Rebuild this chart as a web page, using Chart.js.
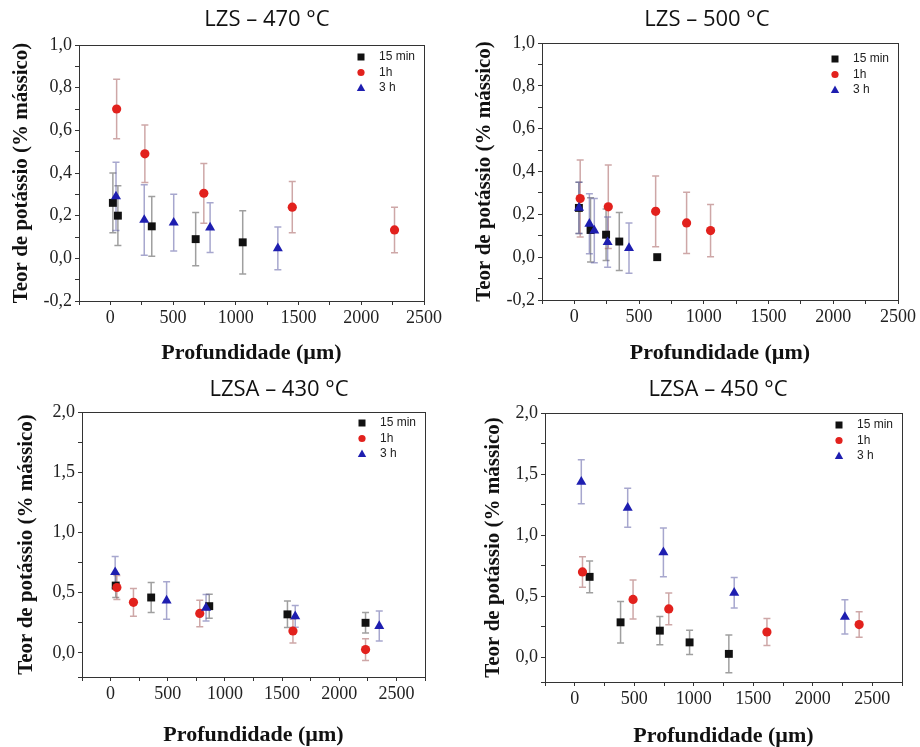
<!DOCTYPE html>
<html>
<head>
<meta charset="utf-8">
<title>Teor de potássio</title>
<script src="https://cdn.jsdelivr.net/npm/chart.js@4.4.1/dist/chart.umd.min.js"></script>
<style>
  html, body { margin: 0; padding: 0; background: #fff; }
  #wrap { position: relative; width: 920px; height: 747px; }
  #wrap canvas { position: absolute; }
</style>
</head>
<body>
<div id="wrap">
  <canvas id="c1" width="460" height="370" style="left:0;top:0"></canvas>
  <canvas id="c2" width="460" height="370" style="left:460px;top:0"></canvas>
  <canvas id="c3" width="460" height="377" style="left:0;top:370px"></canvas>
  <canvas id="c4" width="460" height="377" style="left:460px;top:370px"></canvas>
</div>
<script>
// series names, same in the four panels
const seriesLabels = ['15 min', '1h', '3 h'];

// LZS – 470 °C
const lzs470_x15 = [20, 60, 330, 680, 1055];
const lzs470_y15 = [0.26, 0.20, 0.15, 0.09, 0.075];
const lzs470_e15 = [0.14, 0.14, 0.14, 0.125, 0.148];
const lzs470_x1h = [50, 275, 745, 1450, 2265];
const lzs470_y1h = [0.70, 0.49, 0.305, 0.24, 0.133];
const lzs470_e1h = [0.14, 0.135, 0.14, 0.12, 0.107];
const lzs470_x3h = [45, 270, 505, 795, 1335];
const lzs470_y3h = [0.29, 0.18, 0.167, 0.144, 0.047];
const lzs470_e3h = [0.16, 0.165, 0.133, 0.117, 0.1];

// LZS – 500 °C
const lzs500_x15 = [35, 125, 245, 347, 640];
const lzs500_y15 = [0.23, 0.127, 0.105, 0.073, 0.0];
const lzs500_e15 = [0.12, 0.15, 0.12, 0.135, 0];
const lzs500_x1h = [45, 262, 628, 867, 1052];
const lzs500_y1h = [0.274, 0.235, 0.214, 0.16, 0.124];
const lzs500_e1h = [0.18, 0.195, 0.165, 0.143, 0.122];
const lzs500_x3h = [36, 116, 154, 257, 422];
const lzs500_y3h = [0.23, 0.156, 0.124, 0.07, 0.042];
const lzs500_e3h = [0.12, 0.14, 0.15, 0.117, 0.117];

// LZSA – 430 °C
const lzsa430_x15 = [45, 355, 863, 1547, 2230];
const lzsa430_y15 = [0.559, 0.46, 0.388, 0.32, 0.25];
const lzsa430_e15 = [0.1, 0.125, 0.1, 0.11, 0.085];
const lzsa430_x1h = [55, 200, 780, 1595, 2230];
const lzsa430_y1h = [0.543, 0.42, 0.328, 0.182, 0.028];
const lzsa430_e1h = [0.1, 0.115, 0.11, 0.1, 0.09];
const lzsa430_x3h = [40, 490, 835, 1615, 2350];
const lzsa430_y3h = [0.67, 0.435, 0.375, 0.303, 0.223];
const lzsa430_e3h = [0.13, 0.155, 0.11, 0.09, 0.125];

// LZSA – 450 °C
const lzsa450_x15 = [125, 385, 715, 965, 1295];
const lzsa450_y15 = [0.66, 0.288, 0.22, 0.124, 0.03];
const lzsa450_e15 = [0.13, 0.17, 0.115, 0.1, 0.155];
const lzsa450_x1h = [65, 490, 790, 1615, 2390];
const lzsa450_y1h = [0.70, 0.475, 0.398, 0.209, 0.27];
const lzsa450_e1h = [0.125, 0.16, 0.13, 0.11, 0.105];
const lzsa450_x3h = [55, 445, 745, 1340, 2270];
const lzsa450_y3h = [1.437, 1.225, 0.86, 0.53, 0.332];
const lzsa450_e3h = [0.18, 0.16, 0.2, 0.125, 0.14];

// styles
const seriesColors = ['#111111', '#e2211d', '#1e1eb0'];
const errColors = ['rgba(80,80,80,0.55)', 'rgba(165,95,95,0.55)', 'rgba(95,95,165,0.55)'];
const pointStyles = ['rect', 'circle', 'triangle'];
const pointSizes = [5.6, 4.6, 5.8];

// error bars, drawn under the markers
const errorBarPlugin = {
  id: 'errorBars',
  beforeDatasetsDraw(chart) {
    const ctx = chart.ctx, xs = chart.scales.x, ys = chart.scales.y;
    ctx.save();
    ctx.lineWidth = 1.5;
    chart.data.datasets.forEach((ds, i) => {
      ctx.strokeStyle = errColors[i];
      ds.data.forEach((p, k) => {
        const e = ds.errors[k];
        if (!e) return;
        const px = xs.getPixelForValue(p.x);
        const top = ys.getPixelForValue(p.y + e);
        const bot = ys.getPixelForValue(p.y - e);
        ctx.beginPath();
        ctx.moveTo(px, top); ctx.lineTo(px, bot);
        ctx.moveTo(px - 3.5, top); ctx.lineTo(px + 3.5, top);
        ctx.moveTo(px - 3.5, bot); ctx.lineTo(px + 3.5, bot);
        ctx.stroke();
      });
    });
    ctx.restore();
  }
};

// box around the plot, panel title and the legend inside the plot
const decorPlugin = {
  id: 'panelDecor',
  afterDraw(chart, args, opts) {
    const ctx = chart.ctx, a = chart.chartArea;
    ctx.save();
    ctx.strokeStyle = '#333';
    ctx.lineWidth = 1;
    ctx.strokeRect(Math.round(a.left) + 0.5, Math.round(a.top) + 0.5,
      Math.round(a.right - a.left), Math.round(a.bottom - a.top));

    ctx.fillStyle = '#111';
    ctx.font = '22px "Open Sans"';
    ctx.textAlign = 'center';
    ctx.textBaseline = 'middle';
    ctx.fillText(opts.title, opts.titleX, opts.titleY);

    ctx.font = '12px "Liberation Sans"';
    ctx.textAlign = 'left';
    seriesLabels.forEach((lab, i) => {
      const mx = a.right - 63, my = a.top + opts.legTop + i * 15.5;
      ctx.fillStyle = seriesColors[i];
      ctx.beginPath();
      if (i === 0) ctx.rect(mx - 3.5, my - 3.5, 7, 7);
      else if (i === 1) ctx.arc(mx, my, 3.6, 0, Math.PI * 2);
      else { ctx.moveTo(mx, my - 4.5); ctx.lineTo(mx + 4.2, my + 3); ctx.lineTo(mx - 4.2, my + 3); ctx.closePath(); }
      ctx.fill();
      ctx.fillStyle = '#222';
      ctx.fillText(lab, a.right - 45, my);
    });
    ctx.restore();
  }
};

function makeSeries(xs, ys, es) {
  return { x: xs, y: ys, e: es };
}

// decimal comma, and no "-0,0" from rounding noise
function commaLabel(v) {
  const r = Math.round(v * 10) / 10;
  return (r === 0 ? 0 : r).toFixed(1).replace('.', ',');
}

function makePanel(id, title, series, o) {
  const datasets = series.map((s, i) => ({
    label: seriesLabels[i],
    data: s.x.map((x, k) => ({ x: x, y: s.y[k] })),
    errors: s.e,
    pointStyle: pointStyles[i],
    pointRadius: pointSizes[i],
    pointHoverRadius: pointSizes[i],
    backgroundColor: seriesColors[i],
    borderColor: seriesColors[i],
    borderWidth: 0,
    showLine: false,
    order: 3 - i
  }));

  const tickFont = { family: 'Liberation Serif', size: 18 };
  new Chart(document.getElementById(id), {
    type: 'scatter',
    data: { datasets: datasets },
    options: {
      responsive: false,
      animation: false,
      devicePixelRatio: 1,
      layout: { padding: { left: o.padL, right: o.padR, top: o.padT, bottom: o.padB } },
      plugins: {
        legend: { display: false },
        tooltip: { enabled: false },
        panelDecor: { title: title, titleX: o.titleX, titleY: 20, legTop: o.legTop }
      },
      scales: {
        x: {
          type: 'linear',
          min: -250,
          max: o.xMax,
          afterFit: s => { s.height = o.xH; },
          ticks: {
            stepSize: 250, autoSkip: false, maxRotation: 0, padding: 2,
            color: '#222', font: tickFont,
            callback: v => (v % 500 === 0 ? String(v) : '')
          },
          grid: { drawOnChartArea: false, tickLength: 4, tickColor: '#333' },
          border: { color: '#333' },
          title: {
            display: true, text: 'Profundidade (µm)', color: '#111', padding: 0,
            font: { family: 'Liberation Serif', size: 22, weight: 'bold', lineHeight: 1 }
          }
        },
        y: {
          min: -0.2,
          max: o.yMax,
          afterFit: s => { s.width = o.yW; },
          ticks: {
            stepSize: o.yStep / 2, autoSkip: false, padding: 3,
            color: '#222', font: tickFont,
            callback: v => (Math.abs(Math.round(v * 100) % Math.round(o.yStep * 100)) === 0
              ? commaLabel(v) : '')
          },
          grid: { drawOnChartArea: false, tickLength: 4, tickColor: '#333' },
          border: { color: '#333' },
          title: {
            display: true, text: 'Teor de potássio (% mássico)', color: '#111', padding: 0,
            font: { family: 'Liberation Serif', size: 21, weight: 'bold', lineHeight: 1 }
          }
        }
      }
    },
    plugins: [errorBarPlugin, decorPlugin]
  });
}

makePanel('c1', 'LZS – 470 °C', [
  makeSeries(lzs470_x15, lzs470_y15, lzs470_e15),
  makeSeries(lzs470_x1h, lzs470_y1h, lzs470_e1h),
  makeSeries(lzs470_x3h, lzs470_y3h, lzs470_e3h)
], { padL: 11.5, padR: 36, padT: 45, padB: 6, yW: 67.5, xH: 63, xMax: 2500, yMax: 1.0, yStep: 0.2, titleX: 267, legTop: 12 });

makePanel('c2', 'LZS – 500 °C', [
  makeSeries(lzs500_x15, lzs500_y15, lzs500_e15),
  makeSeries(lzs500_x1h, lzs500_y1h, lzs500_e1h),
  makeSeries(lzs500_x3h, lzs500_y3h, lzs500_e3h)
], { padL: 14.5, padR: 22, padT: 43, padB: 6, yW: 67.5, xH: 64, xMax: 2500, yMax: 1.0, yStep: 0.2, titleX: 247, legTop: 16 });

makePanel('c3', 'LZSA – 430 °C', [
  makeSeries(lzsa430_x15, lzsa430_y15, lzsa430_e15),
  makeSeries(lzsa430_x1h, lzsa430_y1h, lzsa430_e1h),
  makeSeries(lzsa430_x3h, lzsa430_y3h, lzsa430_e3h)
], { padL: 16.5, padR: 35, padT: 42, padB: 1, yW: 65.5, xH: 69, xMax: 2750, yMax: 2.0, yStep: 0.5, titleX: 279, legTop: 11 });

makePanel('c4', 'LZSA – 450 °C', [
  makeSeries(lzsa450_x15, lzsa450_y15, lzsa450_e15),
  makeSeries(lzsa450_x1h, lzsa450_y1h, lzsa450_e1h),
  makeSeries(lzsa450_x3h, lzsa450_y3h, lzsa450_e3h)
], { padL: 23.5, padR: 18, padT: 43, padB: 0, yW: 61.5, xH: 65, xMax: 2750, yMax: 2.0, yStep: 0.5, titleX: 258, legTop: 12 });
</script>
</body>
</html>
